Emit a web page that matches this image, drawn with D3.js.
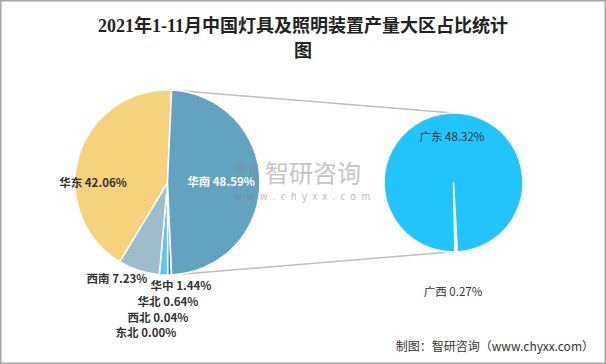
<!DOCTYPE html>
<html><head><meta charset="utf-8">
<script src="https://cdn.jsdelivr.net/npm/d3@7/dist/d3.min.js"></script>
<style>
html,body{margin:0;padding:0;background:#fff;}
svg{display:block;}
text{font-family:"Noto Sans CJK SC","Noto Sans",sans-serif;}
</style></head>
<body>
<svg id="chart" width="606" height="364"></svg>
<script>
// ---- data ----
const titleLines = ["2021年1-11月中国灯具及照明装置产量大区占比统计", "图"];
const leftNames  = ["东北", "西北", "华北", "华中", "西南", "华东", "华南"];
const leftValues = [0.00, 0.04, 0.64, 1.44, 7.23, 42.06, 48.59];
const rightNames  = ["广西", "广东"];
const rightValues = [0.27, 48.32];
const sourceText = "制图：智研咨询（www.chyxx.com）";

// ---- styles ----
const leftColors = {"东北":"#2E75B6","西北":"#1F5F8B","华北":"#2B7BB9","华中":"#5BC8F2","西南":"#9DBDCB","华东":"#F6D27C","华南":"#62A3C2"};
const rightColors = {"广东":"#22C4FE","广西":"#BDBDBD"};
const leftLabelPos = {
  "华南":[221,182,"#fff"], "华东":[93,183,"#333"], "西南":[117,279,"#333"],
  "华中":[181,286,"#333"], "华北":[168,302,"#333"], "西北":[158,318,"#333"], "东北":[146,333,"#333"]
};
const rightLabelPos = {"广东":[452,137], "广西":[453,292]};

const svg = d3.select("#chart");
const W = 606, H = 364;
const deg = Math.PI/180;

svg.append("rect").attr("x",0.75).attr("y",0.75).attr("width",W-1.5).attr("height",H-1.5)
  .attr("fill","#fff").attr("stroke","#A6A6A6").attr("stroke-width",1.5);

// title
svg.append("g").selectAll("text").data(titleLines).join("text")
  .attr("x", W/2).attr("y",(d,i)=>32+i*25)
  .attr("text-anchor","middle").attr("font-size",18).attr("font-weight","bold")
  .attr("fill","#222")
  .style("font-family","'Liberation Serif','Noto Sans CJK SC',serif")
  .text(d=>d);

// geometry
const lc = [167.5, 182.5], lr = 92.5;
const rc = [453.5, 182.5], rr = 69.5;

const total = d3.sum(leftValues);
const otherFrac = leftValues[leftValues.length-1]/total;
const leftStart = Math.PI/2 + otherFrac*Math.PI;

const leftPie = d3.pie().sort(null).value(d=>d.v)
  .startAngle(leftStart).endAngle(leftStart+2*Math.PI);
const leftArcs = leftPie(leftNames.map((n,i)=>({n, v:leftValues[i]})));
const arcL = d3.arc().innerRadius(0).outerRadius(lr);

// connector lines
const other = leftArcs[leftArcs.length-1];
const p1 = [lc[0]+lr*Math.sin(other.startAngle), lc[1]-lr*Math.cos(other.startAngle)];
const p2 = [lc[0]+lr*Math.sin(other.endAngle), lc[1]-lr*Math.cos(other.endAngle)];
svg.append("line").attr("x1",p1[0]).attr("y1",p1[1]).attr("x2",rc[0]).attr("y2",rc[1]-rr)
  .attr("stroke","#BFBFBF").attr("stroke-width",1.5);
svg.append("line").attr("x1",p2[0]).attr("y1",p2[1]).attr("x2",rc[0]-3).attr("y2",rc[1]+rr)
  .attr("stroke","#BFBFBF").attr("stroke-width",1.5);

// left pie
svg.append("g").attr("transform",`translate(${lc})`)
  .selectAll("path").data(leftArcs).join("path")
  .attr("d",arcL).attr("fill",d=>leftColors[d.data.n])
  .attr("stroke","#fff").attr("stroke-width",1.5).attr("stroke-linejoin","round");

// right pie
const rightPie = d3.pie().sort(null).value(d=>d.v)
  .startAngle(176.8*deg).endAngle(176.8*deg+2*Math.PI);
const rightArcs = rightPie(rightNames.map((n,i)=>({n, v:rightValues[i]})));
const arcR = d3.arc().innerRadius(0).outerRadius(rr);
svg.append("g").attr("transform",`translate(${rc})`)
  .selectAll("path").data(rightArcs).join("path")
  .attr("d",arcR).attr("fill",d=>rightColors[d.data.n])
  .attr("stroke","#fff").attr("stroke-width",1.5);

// watermark (drawn over the pies, semi-transparent)
const wm = svg.append("g").attr("opacity",0.5);
wm.append("path").attr("d","M234,164 H246 V173 H238 V176 H246 V184 H234 V175 H242 V172 H234 Z").attr("fill","#6F94AE");
wm.append("path").attr("d","M249,164 H258 V184 H249 Z").attr("fill","#6F94AE");
wm.append("text").attr("x",265).attr("y",182).attr("font-size",24).attr("fill","#8C8C8C").text("智研咨询");
wm.append("text").attr("x",234).attr("y",200).attr("font-size",9.5).attr("fill","#777")
  .attr("letter-spacing",5.4).text("www.chyxx.com");

// left labels
svg.append("g").selectAll("text").data(leftArcs).join("text")
  .attr("x",d=>leftLabelPos[d.data.n][0]).attr("y",d=>leftLabelPos[d.data.n][1]+4)
  .attr("text-anchor","middle").attr("font-size",11.5).attr("font-weight","bold")
  .attr("fill",d=>leftLabelPos[d.data.n][2])
  .text(d=>`${d.data.n} ${d.data.v.toFixed(2)}%`);

// right labels
svg.append("g").selectAll("text").data(rightArcs).join("text")
  .attr("x",d=>rightLabelPos[d.data.n][0]).attr("y",d=>rightLabelPos[d.data.n][1]+4)
  .attr("text-anchor","middle").attr("font-size",11.5)
  .attr("fill","#333")
  .text(d=>`${d.data.n} ${d.data.v.toFixed(2)}%`);

// source
svg.append("text").attr("x",594).attr("y",351).attr("text-anchor","end")
  .attr("font-size",12).attr("fill","#333").text(sourceText);
</script>
</body></html>
